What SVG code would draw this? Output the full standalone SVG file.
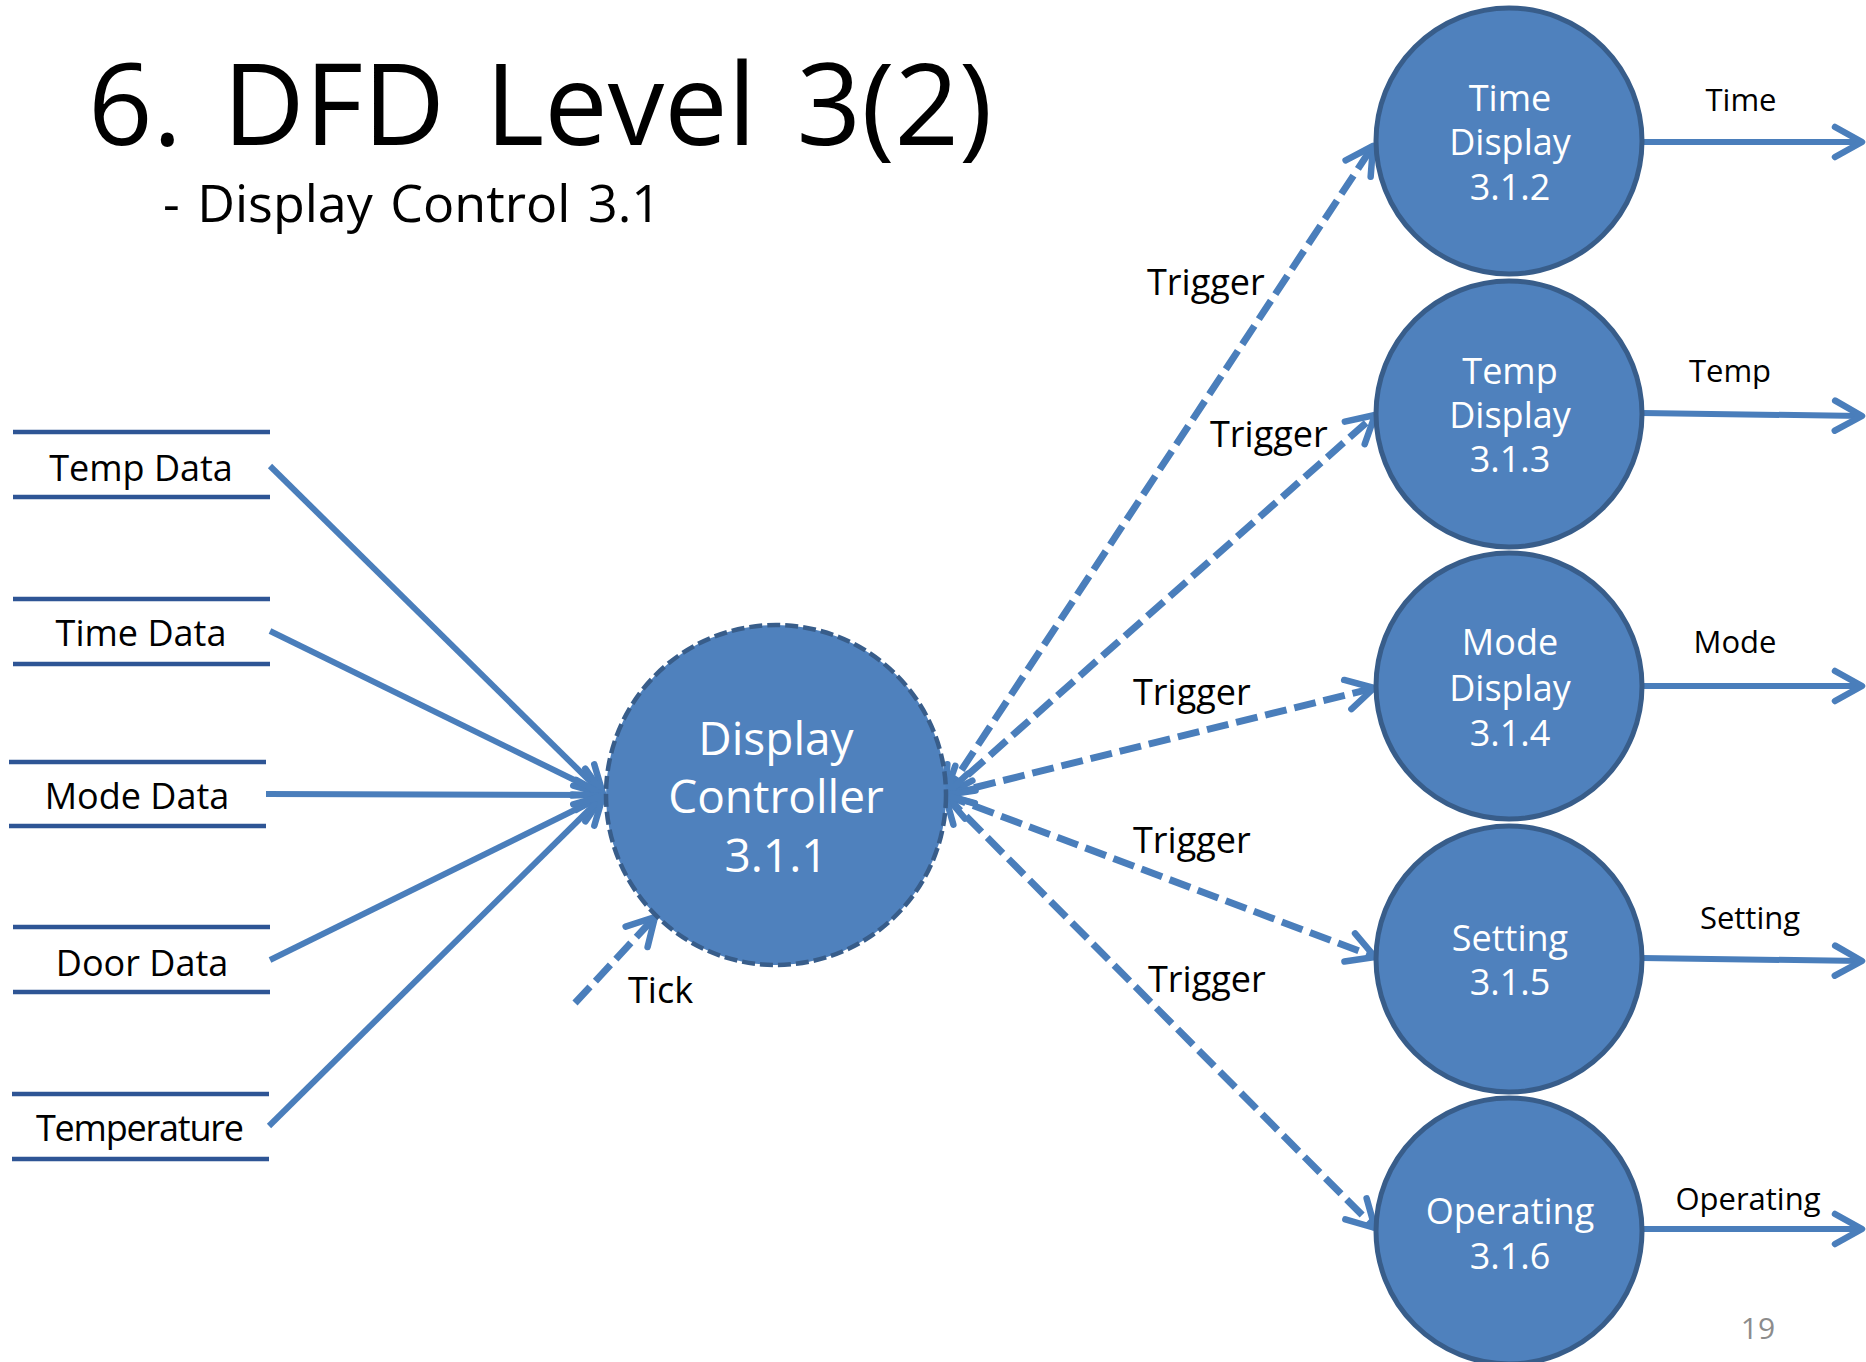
<svg xmlns="http://www.w3.org/2000/svg" width="1866" height="1362" viewBox="0 0 1866 1362">
<style>
  text { font-family: "Open Sans", "Noto Sans CJK KR", sans-serif; }
  .title { font-size: 113px; fill: #000; word-spacing: 11px; }
  .sub { font-size: 52px; fill: #000; word-spacing: 4px; }
  .store-line { stroke: #2E5595; stroke-width: 4.5; fill: none; }
  .store-label { font-size: 36px; fill: #000; text-anchor: middle; }
  .proc { fill: #4F81BD; stroke: #385D8A; stroke-width: 5; }
  .ctrl { fill: #4F81BD; stroke: #385D8A; stroke-width: 4.5; stroke-dasharray: 13 5; }
  .ptext { font-size: 36px; fill: #fff; text-anchor: middle; }
  .ctext { font-size: 46px; fill: #fff; text-anchor: middle; }
  .flow { stroke: #4A7EBB; stroke-width: 6; fill: none; marker-end: url(#arr); }
  .dflow { stroke: #4A7EBB; stroke-width: 7; fill: none; stroke-dasharray: 22 8; marker-end: url(#arr); }
  .label { font-size: 36px; fill: #000; }
  .olabel { font-size: 31px; fill: #000; text-anchor: middle; }
</style>
<defs>
  <marker id="arr" markerUnits="userSpaceOnUse" markerWidth="60" markerHeight="60" viewBox="-40 -30 60 60" refX="0" refY="0" orient="auto-start-reverse" overflow="visible">
    <path d="M-27,-15 L0,0 L-27,15" fill="none" stroke="#4A7EBB" stroke-width="6.5" stroke-linecap="round" stroke-linejoin="round"/>
  </marker>
</defs>
<rect x="0" y="0" width="1866" height="1362" fill="#fff"/>

<g id="title">
  <text x="88" y="145"><tspan class="title">6. DFD Level 3(2)</tspan><tspan class="sub" x="163" y="222">- Display Control 3.1</tspan></text>
</g>

<g id="connectors">
  <line class="flow" x1="270" y1="466" x2="603" y2="794"/>
  <line class="flow" x1="270" y1="631" x2="603" y2="794"/>
  <line class="flow" x1="266" y1="794" x2="603" y2="795"/>
  <line class="flow" x1="270" y1="960" x2="603" y2="796"/>
  <line class="flow" x1="269" y1="1126" x2="603" y2="796"/>
  <line class="dflow" x1="575" y1="1003" x2="655" y2="917"/>
  <line class="dflow" x1="945" y1="795" x2="1373" y2="146" marker-start="url(#arr)"/>
  <line class="dflow" x1="945" y1="795" x2="1375" y2="415" marker-start="url(#arr)"/>
  <line class="dflow" x1="945" y1="795" x2="1374" y2="688" marker-start="url(#arr)"/>
  <line class="dflow" x1="945" y1="795" x2="1375" y2="957" marker-start="url(#arr)"/>
  <line class="dflow" x1="945" y1="795" x2="1375" y2="1228" marker-start="url(#arr)"/>
  <line class="flow" x1="1642" y1="142" x2="1862" y2="142"/>
  <line class="flow" x1="1642" y1="413" x2="1862" y2="416"/>
  <line class="flow" x1="1642" y1="686" x2="1862" y2="686"/>
  <line class="flow" x1="1642" y1="958" x2="1862" y2="961"/>
  <line class="flow" x1="1642" y1="1229" x2="1862" y2="1229"/>
</g>

<g id="connector-labels">
  <text class="label" x="1147" y="295">Trigger</text>
  <text class="label" x="1210" y="447">Trigger</text>
  <text class="label" x="1133" y="705">Trigger</text>
  <text class="label" x="1133" y="853">Trigger</text>
  <text class="label" x="1148" y="992">Trigger</text>
  <text class="label" x="628" y="1003">Tick</text>
  <text class="olabel" x="1741" y="111">Time</text>
  <text class="olabel" x="1730" y="382">Temp</text>
  <text class="olabel" x="1735" y="653">Mode</text>
  <text class="olabel" x="1750" y="929">Setting</text>
  <text class="olabel" x="1748" y="1210">Operating</text>
</g>

<g id="store-temp-data">
  <line class="store-line" x1="13" y1="432" x2="270" y2="432"/>
  <line class="store-line" x1="13" y1="497" x2="270" y2="497"/>
  <text class="store-label" x="141" y="481">Temp Data</text>
</g>
<g id="store-time-data">
  <line class="store-line" x1="13" y1="599" x2="270" y2="599"/>
  <line class="store-line" x1="13" y1="664" x2="270" y2="664"/>
  <text class="store-label" x="141" y="646">Time Data</text>
</g>
<g id="store-mode-data">
  <line class="store-line" x1="9" y1="762" x2="266" y2="762"/>
  <line class="store-line" x1="9" y1="826" x2="266" y2="826"/>
  <text class="store-label" x="137" y="809">Mode Data</text>
</g>
<g id="store-door-data">
  <line class="store-line" x1="13" y1="927" x2="270" y2="927"/>
  <line class="store-line" x1="13" y1="992" x2="270" y2="992"/>
  <text class="store-label" x="142" y="976">Door Data</text>
</g>
<g id="store-temperature">
  <line class="store-line" x1="12" y1="1094" x2="269" y2="1094"/>
  <line class="store-line" x1="12" y1="1159" x2="269" y2="1159"/>
  <text class="store-label" x="140" y="1141" textLength="208">Temperature</text>
</g>

<g id="display-controller">
  <circle class="ctrl" cx="776" cy="795" r="170"/>
  <text class="ctext"><tspan x="776" y="755">Display</tspan><tspan x="776" y="813">Controller</tspan><tspan x="776" y="872">3.1.1</tspan></text>
</g>

<g id="time-display">
  <circle class="proc" cx="1509" cy="141" r="133"/>
  <text class="ptext"><tspan x="1510" y="111">Time</tspan><tspan x="1510" y="155">Display</tspan><tspan x="1510" y="200">3.1.2</tspan></text>
</g>
<g id="temp-display">
  <circle class="proc" cx="1509" cy="414" r="133"/>
  <text class="ptext"><tspan x="1510" y="384">Temp</tspan><tspan x="1510" y="428">Display</tspan><tspan x="1510" y="472">3.1.3</tspan></text>
</g>
<g id="mode-display">
  <circle class="proc" cx="1509" cy="686" r="133"/>
  <text class="ptext"><tspan x="1510" y="655">Mode</tspan><tspan x="1510" y="701">Display</tspan><tspan x="1510" y="746">3.1.4</tspan></text>
</g>
<g id="setting">
  <circle class="proc" cx="1509" cy="959" r="133"/>
  <text class="ptext"><tspan x="1510" y="951">Setting</tspan><tspan x="1510" y="995">3.1.5</tspan></text>
</g>
<g id="operating">
  <circle class="proc" cx="1509" cy="1231" r="133"/>
  <text class="ptext"><tspan x="1510" y="1224">Operating</tspan><tspan x="1510" y="1269">3.1.6</tspan></text>
</g>

<g id="page-number">
  <text x="1758" y="1339" font-size="30" fill="#8C8C8C" text-anchor="middle">19</text>
</g>
</svg>
